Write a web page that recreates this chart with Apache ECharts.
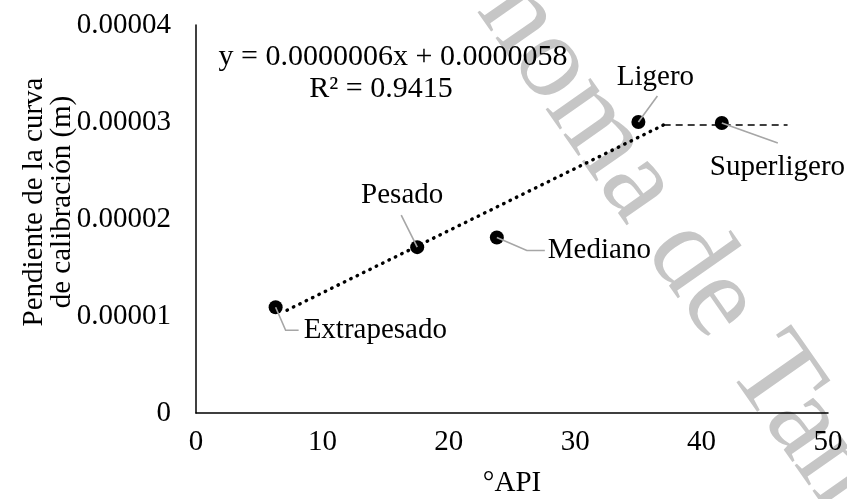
<!DOCTYPE html>
<html>
<head>
<meta charset="utf-8">
<script src="https://cdn.jsdelivr.net/npm/echarts@6/dist/echarts.min.js"></script>
<style>
  html, body { margin: 0; padding: 0; background: #fff; }
  #chart { width: 847px; height: 499px; }
</style>
</head>
<body>
<div id="chart"></div>
<script>
// Crude types and their measured points
const crudeNames = ['Extrapesado', 'Pesado', 'Mediano', 'Ligero', 'Superligero'];
const apiValues = [6.3, 17.5, 23.8, 35.0, 41.6];
const slopeValues = [0.0000109, 0.0000171, 0.0000181, 0.0000300, 0.0000299];

// Trend segments (rising dotted part, then flat dashed part)
const trendRise = [[7.2, 0.0000106], [37.0, 0.0000297]];
const trendFlat = [[37.0, 0.0000297], [46.8, 0.0000297]];

// Axis ticks
const xTicks = [0, 10, 20, 30, 40, 50];
const yTickLabels = ['0', '0.00001', '0.00002', '0.00003', '0.00004'];

const equationLine = 'y = 0.0000006x + 0.0000058';
const r2Line = 'R² = 0.9415';

const FONT = "'Liberation Serif', 'Times New Roman', serif";
const FS = 29;

// label placement relative to each marker centre (px)
const labelPlacement = [
  { dx: 28, dy: 23, align: 'left' },
  { dx: -15, dy: -52, align: 'center' },
  { dx: 51, dy: 13, align: 'left' },
  { dx: 17, dy: -45, align: 'center' },
  { dx: -12, dy: 44, align: 'left' }
];

// leader line shapes relative to each marker centre (px)
const leaderShapes = [
  [[0, 0], [10, 23], [23, 23]],
  [[0, 0], [-16, -32]],
  [[0, 0], [30, 13], [48, 13]],
  [[0, 0], [19, -26]],
  [[0, 0], [56, 20]]
];

const chart = echarts.init(document.getElementById('chart'));

const scatterData = crudeNames.map((n, i) => ({
  name: n,
  value: [apiValues[i], slopeValues[i]]
}));

const textBase = { fontFamily: FONT, fontSize: 30, fill: '#000', textVerticalAlign: 'middle', textAlign: 'center' };

chart.setOption({
  animation: false,
  backgroundColor: '#fff',
  textStyle: { fontFamily: FONT },
  grid: {
    left: 196, right: 19, top: 25, bottom: 86,
    containLabel: false,
    outerBoundsMode: 'none'
  },
  xAxis: {
    type: 'value',
    min: xTicks[0],
    max: xTicks[xTicks.length - 1],
    interval: 10,
    name: '°API',
    nameLocation: 'middle',
    nameGap: 56,
    nameMoveOverlap: false,
    nameTextStyle: { fontFamily: FONT, fontSize: FS, color: '#000' },
    axisLine: { show: true, lineStyle: { color: '#000', width: 1.5 } },
    axisTick: { show: false },
    splitLine: { show: false },
    axisLabel: { fontFamily: FONT, fontSize: FS, color: '#000', margin: 15 }
  },
  yAxis: {
    type: 'value',
    min: 0,
    max: 0.00004,
    interval: 0.00001,
    name: 'Pendiente de la curva\nde calibración (m)',
    nameLocation: 'middle',
    nameGap: 120,
    nameMoveOverlap: false,
    nameTextStyle: {
      fontFamily: FONT, fontSize: FS, color: '#000', lineHeight: 28,
      padding: [0, 0, 0, 34]
    },
    axisLine: { show: true, lineStyle: { color: '#000', width: 1.5 } },
    axisTick: { show: false },
    splitLine: { show: false },
    axisLabel: {
      fontFamily: FONT, fontSize: FS, color: '#000', margin: 25,
      formatter: v => yTickLabels[Math.round(v / 0.00001)]
    }
  },
  graphic: [
    {
      type: 'text',
      id: 'watermark',
      z: -10,
      silent: true,
      x: 365,
      y: -203,
      rotation: -55 * Math.PI / 180,
      style: {
        text: 'Autónoma de Tamaulipas',
        fontFamily: FONT,
        fontSize: 119,
        fill: '#c6c6c6',
        textAlign: 'left',
        textVerticalAlign: 'middle'
      }
    },
    {
      type: 'text',
      id: 'equation',
      z: 50,
      x: 393,
      y: 57,
      style: Object.assign({ text: equationLine }, textBase)
    },
    {
      type: 'text',
      id: 'r2',
      z: 50,
      x: 381,
      y: 89,
      style: Object.assign({ text: r2Line }, textBase)
    }
  ],
  series: [
    {
      type: 'line',
      data: trendRise,
      symbol: 'none',
      z: 2,
      lineStyle: { color: '#000', width: 3.4, type: [0.5, 6.6], cap: 'round' }
    },
    {
      type: 'line',
      data: trendFlat,
      symbol: 'none',
      z: 2,
      lineStyle: { color: '#000', width: 1.5, type: [7, 5] }
    },
    {
      type: 'scatter',
      data: scatterData,
      symbol: 'circle',
      symbolSize: 14,
      z: 3,
      itemStyle: { color: '#000', opacity: 1 },
      label: {
        show: true,
        formatter: '{b}',
        fontFamily: FONT,
        fontSize: FS,
        color: '#000'
      },
      labelLayout: function (params) {
        const p = labelPlacement[params.dataIndex];
        const r = params.rect;
        return {
          x: r.x + r.width / 2 + p.dx,
          y: r.y + r.height / 2 + p.dy,
          align: p.align,
          verticalAlign: 'middle'
        };
      }
    }
  ]
});

// leader lines from each marker to its label, placed through the axis scales
const leaders = scatterData.map((d, i) => {
  const c = chart.convertToPixel({ seriesIndex: 2 }, d.value);
  return {
    type: 'polyline',
    id: 'leader' + i,
    z: 20,
    silent: true,
    shape: { points: leaderShapes[i].map(p => [c[0] + p[0], c[1] + p[1]]) },
    style: { stroke: '#a6a6a6', lineWidth: 1.6, fill: null }
  };
});
chart.setOption({ graphic: leaders });
</script>
</body>
</html>
